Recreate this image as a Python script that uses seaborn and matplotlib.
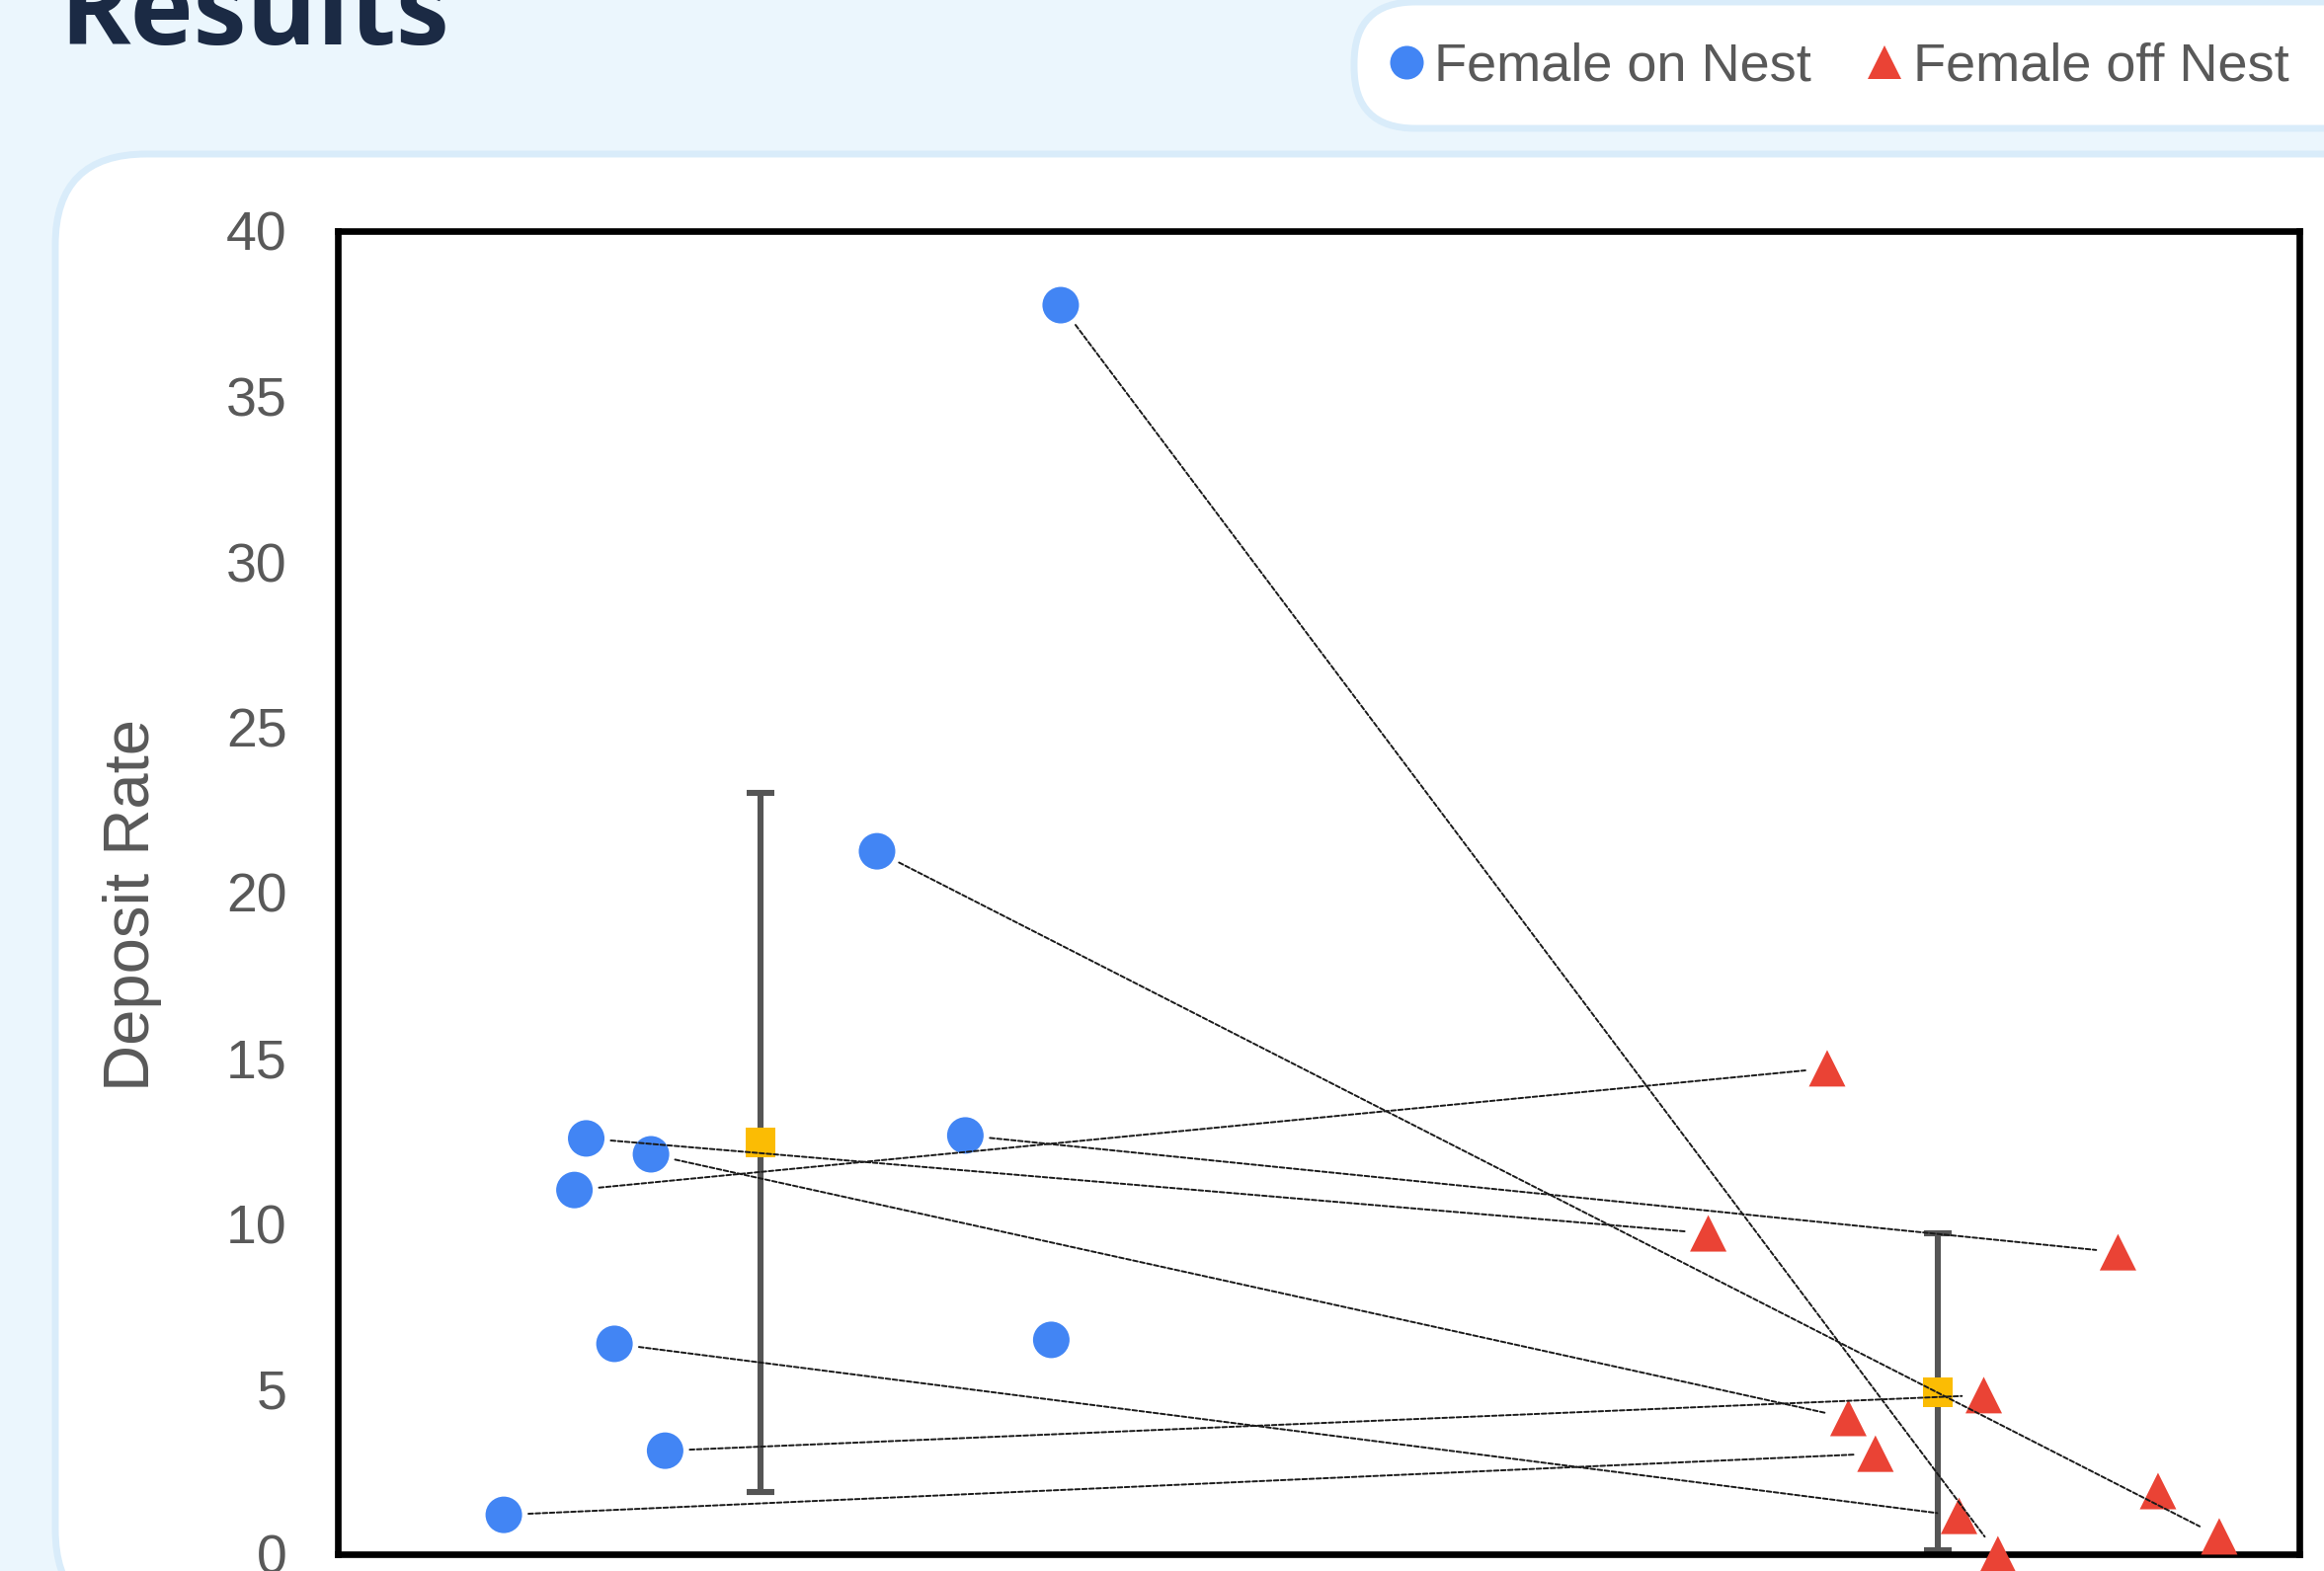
import pandas as pd
import seaborn as sns
import matplotlib.pyplot as plt
from matplotlib.lines import Line2D
from matplotlib.patches import FancyBboxPatch

groups = ["Female on Nest", "Female off Nest"]
group_pos = [1, 2]

# one female per index: on-nest value and its off-nest partner (x = jittered position)
on_x = [1.255, 1.099, 1.174, 0.852, 0.907, 0.842, 0.876, 1.247, 0.919, 0.782]
on_rate = [37.76, 21.25, 12.66, 12.57, 12.09, 11.01, 6.36, 6.48, 3.13, 1.19]
off_x = [2.051, 2.239, 2.153, 1.805, 1.924, 1.906, 2.018, 2.187, 2.039, 1.947]
off_rate = [0.0, 0.54, 9.13, 9.70, 4.12, 14.69, 1.16, 1.91, 4.81, 3.04]
linked = [True, True, True, True, True, True, True, False, True, True]

yticks = [0, 5, 10, 15, 20, 25, 30, 35, 40]

blue = "#4285F4"
red = "#EA4335"
gold = "#FBBC04"
grey_text = "#595959"
bg = "#EBF6FD"
border = "#D9ECFA"

df = pd.DataFrame({
    "group": [groups[0]] * len(on_x) + [groups[1]] * len(off_x),
    "x": on_x + off_x,
    "rate": on_rate + off_rate,
})
stats = df.groupby("group", sort=False)["rate"].agg(["mean", "std"]).loc[groups]

sns.set_theme(style="white")
plt.rcParams["font.family"] = ["Liberation Sans", "DejaVu Sans"]

W, H = 2353, 1591
fig = plt.figure(figsize=(W / 100, H / 100), dpi=100)
fig.patch.set_facecolor(bg)

# slide background: rounded white panels, in pixel units
bg_ax = fig.add_axes([0, 0, 1, 1], zorder=0)
bg_ax.set_xlim(0, W)
bg_ax.set_ylim(H, 0)
bg_ax.axis("off")
bg_ax.add_patch(FancyBboxPatch((56, 156), 2500, 1485,
                               boxstyle="round,pad=0,rounding_size=92",
                               fc="white", ec=border, lw=5))
bg_ax.add_patch(FancyBboxPatch((1371, 2), 1200, 128,
                               boxstyle="round,pad=0,rounding_size=62",
                               fc="white", ec=border, lw=5))

fig.text(60 / W, 1 - 45 / H, "Results", fontsize=78, fontweight="bold",
         color="#1B2A44", family=["Open Sans", "DejaVu Sans"],
         ha="left", va="baseline")

ax = fig.add_axes([342 / W, 1 - 1574 / H, 1986 / W, 1340 / H], zorder=2)
ax.set_facecolor("white")

# mean +/- SD per group
ax.errorbar(group_pos, stats["mean"], yerr=stats["std"], fmt="none",
            ecolor="#555555", elinewidth=4.4, capsize=10, capthick=4.4,
            zorder=2)
ax.plot(group_pos, stats["mean"], ls="none", marker="s", ms=22.3,
        mfc=gold, mec=gold, mew=0, zorder=2.5)

sns.scatterplot(data=df, x="x", y="rate", hue="group", style="group",
                hue_order=groups, style_order=groups, palette=[blue, red],
                markers=["o", "^"], s=710, linewidth=0, legend=False,
                ax=ax, zorder=3)
for coll in ax.collections:
    coll.set_clip_on(False)

# dashed connectors between each female's paired values
for i in range(len(on_x)):
    if not linked[i]:
        continue
    ax.annotate("", xy=(off_x[i], off_rate[i]), xytext=(on_x[i], on_rate[i]),
                arrowprops=dict(arrowstyle="-", color="#1a1a1a", lw=1.4,
                                linestyle=(0, (2.4, 1.3)), shrinkA=18, shrinkB=16),
                zorder=4, annotation_clip=False)

ax.set_xlim(0.641, 2.307)
ax.set_ylim(0, 40)
ax.set_yticks(yticks)
ax.set_xticks([])
ax.set_xlabel("")
ax.tick_params(axis="y", length=0, pad=37, labelsize=40, labelcolor=grey_text)
for sp in ax.spines.values():
    sp.set_visible(True)
    sp.set_color("black")
    sp.set_linewidth(4.8)

ax.set_ylabel("Deposit Rate", fontsize=47, color=grey_text)
ax.yaxis.label.set_verticalalignment("center")
ax.yaxis.set_label_coords(-0.1045, 0.491)

handles = [Line2D([], [], marker="o", ls="", color=blue, ms=24.5, mew=0),
           Line2D([], [], marker="^", ls="", color=red, ms=24.5, mew=0)]
fig.legend(handles, groups, loc="center left",
           bbox_to_anchor=(1407 / W, 1 - 68 / H), ncol=2, frameon=False,
           fontsize=39, handlelength=0.62, handletextpad=0.22,
           columnspacing=1.05, borderpad=0, borderaxespad=0,
           labelcolor=grey_text)

fig.savefig("out.png", dpi=100, facecolor=bg)
